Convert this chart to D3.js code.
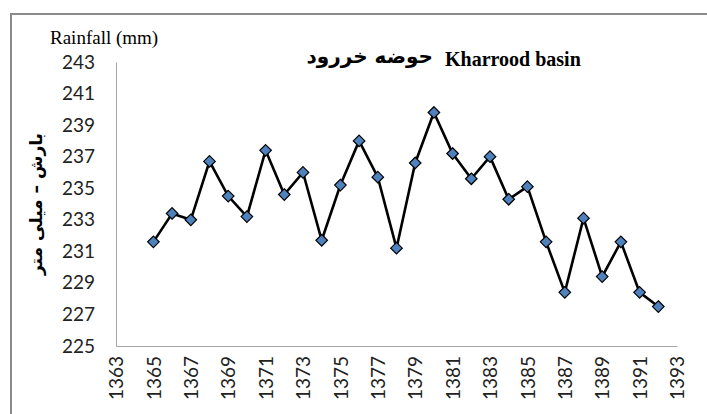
<!DOCTYPE html>
<meta charset="utf-8">
<style>
body { margin: 0; background: #fff; }
.tick text { font-family: Lato, "Open Sans", sans-serif; font-size: 19px; fill: #222; }
</style>
<svg width="707" height="414"></svg>
<script src="https://d3js.org/d3.v7.min.js"></script>
<script>

var years = [1365, 1366, 1367, 1368, 1369, 1370, 1371, 1372, 1373, 1374,
             1375, 1376, 1377, 1378, 1379, 1380, 1381, 1382, 1383, 1384,
             1385, 1386, 1387, 1388, 1389, 1390, 1391, 1392];
var rainfall = [231.6, 233.4, 233.0, 236.7, 234.5, 233.2, 237.4, 234.6, 236.0, 231.7,
                235.2, 238.0, 235.7, 231.2, 236.6, 239.8, 237.2, 235.6, 237.0, 234.3,
                235.1, 231.6, 228.4, 233.1, 229.4, 231.6, 228.4, 227.5];
var xTicks = d3.range(1363, 1394, 2);
var yTicks = d3.range(225, 244, 2);

var svg = d3.select("svg");
var x = d3.scaleLinear().domain([1363, 1393]).range([116, 677]);
var y = d3.scaleLinear().domain([225, 243]).range([346, 62]);

// outer frame
svg.append("path")
    .attr("d", "M11,420 V14 H720")
    .attr("fill", "none")
    .attr("stroke", "#8a8a8a")
    .attr("stroke-width", 2);

var xAxis = svg.append("g")
    .attr("transform", "translate(0,346)")
    .call(d3.axisBottom(x).tickValues(xTicks).tickFormat(d3.format("d")).tickSize(0));
xAxis.select(".domain").attr("stroke", "#a6a6a6");
xAxis.selectAll(".tick text")
    .attr("transform", "rotate(-90)")
    .attr("text-anchor", "end")
    .attr("x", -10)
    .attr("y", 0)
    .attr("dy", "0.35em");

var yAxis = svg.append("g")
    .attr("transform", "translate(116,0)")
    .call(d3.axisLeft(y).tickValues(yTicks).tickSize(0).tickPadding(21));
yAxis.select(".domain").attr("stroke", "#a6a6a6");

var line = d3.line()
    .x(function(d, i) { return x(years[i]); })
    .y(function(d) { return y(d); });

svg.append("path")
    .datum(rainfall)
    .attr("d", line)
    .attr("fill", "none")
    .attr("stroke", "#000")
    .attr("stroke-width", 2.6)
    .attr("stroke-linejoin", "miter");

svg.append("g").selectAll("path")
    .data(rainfall)
    .enter().append("path")
    .attr("d", d3.symbol().type(d3.symbolDiamond2).size(85))
    .attr("transform", function(d, i) { return "translate(" + x(years[i]) + "," + y(d) + ")"; })
    .attr("fill", "#4f81bd")
    .attr("stroke", "#000")
    .attr("stroke-width", 1.2);

// titles
svg.append("text")
    .attr("x", 433).attr("y", 63)
    .attr("font-family", "DejaVu Sans, sans-serif")
    .attr("font-weight", "bold")
    .attr("font-size", 20)
    .attr("direction", "rtl")
    .attr("text-anchor", "start")
    .text("حوضه خررود");

svg.append("text")
    .attr("x", 445).attr("y", 66)
    .attr("font-family", "Liberation Serif, serif")
    .attr("font-weight", "bold")
    .attr("font-size", 20)
    .text("Kharrood basin");

svg.append("text")
    .attr("x", 50).attr("y", 44)
    .attr("font-family", "Liberation Serif, serif")
    .attr("font-size", 19)
    .text("Rainfall (mm)");

svg.append("text")
    .attr("transform", "translate(36,204) rotate(-90)")
    .attr("text-anchor", "middle")
    .attr("dy", "0.35em")
    .attr("font-family", "DejaVu Sans, sans-serif")
    .attr("font-weight", "bold")
    .attr("font-size", 17)
    .text("بارش – میلی متر");

</script>
